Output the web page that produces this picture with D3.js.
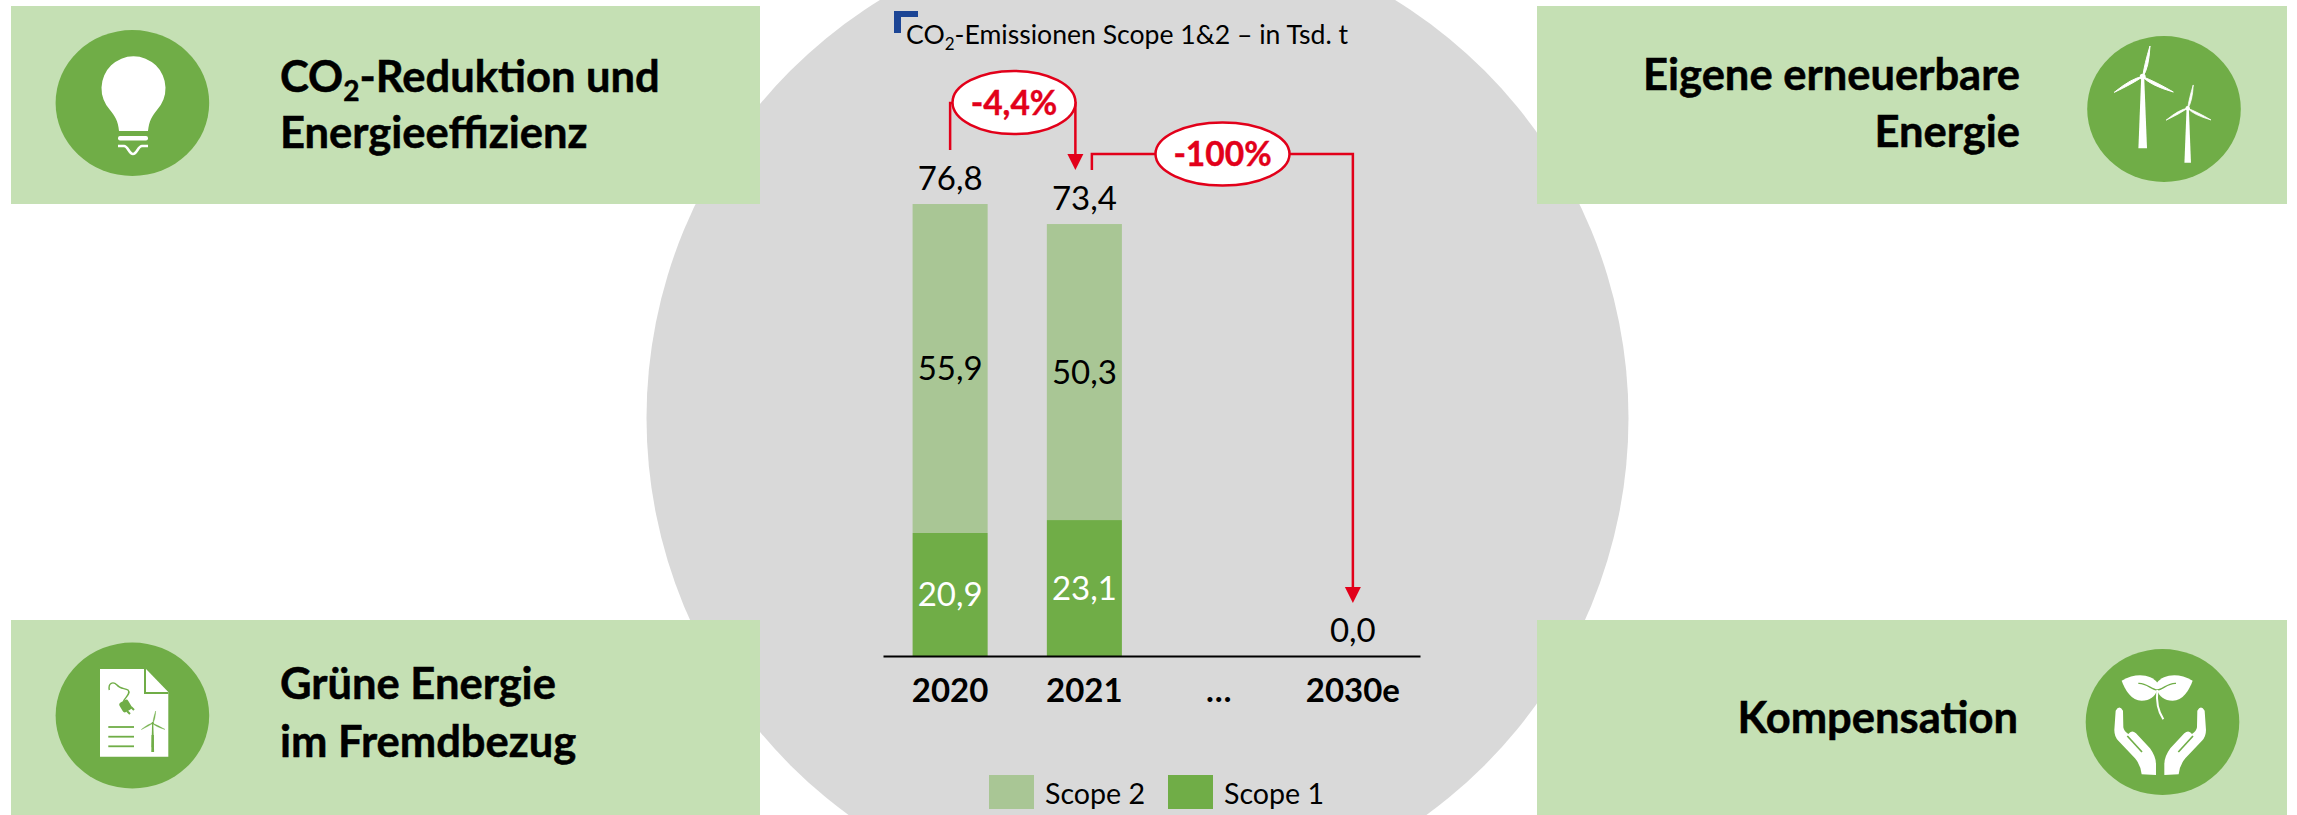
<!DOCTYPE html>
<html>
<head>
<meta charset="utf-8">
<script src="https://cdn.jsdelivr.net/npm/d3@7"></script>
<style type="text/css">
  body { margin: 0; background: #fff; }
  svg { display: block; }
  text { font-family: Lato, "Open Sans", sans-serif; fill: #000; }
  .heading { font-size: 43.5px; font-weight: 700; stroke: #000; stroke-width: 0.5; }
  .value { font-size: 33px; }
  .callout { font-size: 33.5px; font-weight: 700; fill: #e2001a; stroke: #e2001a; stroke-width: 0.4; text-anchor: middle; }
  .x-axis text { font-size: 33px; font-weight: 700; font-family: Lato, sans-serif; }
  .x-axis path { stroke: #000; stroke-width: 2; }
  .connector { fill: none; stroke: #e2001a; stroke-width: 2.5; }
</style>
</head>
<body>
<script>

// chart data
var categories = ["2020", "2021", "…", "2030e"];
var scope1 = [20.9, 23.1, 0, 0];
var scope2 = [55.9, 50.3, 0, 0];
var totals = [76.8, 73.4, null, 0.0];
var changes = ["-4,4%", "-100%"];
var seriesNames = ["Scope 2", "Scope 1"];

var width = 2297, height = 815;
var colorScope1 = "#70ad47", colorScope2 = "#a9c695", colorBox = "#c5e0b4",
    colorRed = "#e2001a", colorGrey = "#d9d9d9";

var fmt = d => d.toFixed(1).replace(".", ",");

var svg = d3.select("body").append("svg")
    .attr("width", width)
    .attr("height", height);

svg.append("rect").attr("width", width).attr("height", height).attr("fill", "#fff");

// big grey circle behind the chart
svg.append("circle")
    .attr("cx", 1137.5).attr("cy", 418).attr("r", 491)
    .attr("fill", colorGrey);

// corner boxes
function box(x, y, w, h) {
    svg.append("rect")
        .attr("x", x).attr("y", y).attr("width", w).attr("height", h)
        .attr("fill", colorBox);
}
box(11, 6, 749, 198);
box(1537, 6, 750, 198);
box(11, 620, 749, 195);
box(1537, 620, 750, 195);

// heading text, "2" after CO gets set as subscript
function heading(x, y, anchor, txt) {
    var t = svg.append("text").attr("class", "heading")
        .attr("x", x).attr("y", y).attr("text-anchor", anchor);
    if (txt.indexOf("CO2") === 0) {
        t.append("tspan").text("CO");
        t.append("tspan").attr("dy", 9).style("font-size", "28px").text("2");
        t.append("tspan").attr("dy", -9).text(txt.slice(3));
    } else {
        t.text(txt);
    }
}
heading(280, 92, "start", "CO2-Reduktion und");
heading(280, 148, "start", "Energieeffizienz");
heading(2020, 90, "end", "Eigene erneuerbare");
heading(2020, 146.7, "end", "Energie");
heading(280, 699, "start", "Grüne Energie");
heading(280, 757, "start", "im Fremdbezug");
heading(2018, 733, "end", "Kompensation");

// icon discs
function disc(cx, cy) {
    svg.append("ellipse")
        .attr("cx", cx).attr("cy", cy).attr("rx", 76.8).attr("ry", 73)
        .attr("fill", colorScope1);
}
disc(132.4, 103);
disc(2164, 109);
disc(132.4, 715.5);
disc(2162.5, 722);

// light bulb
var bulb = svg.append("g");
bulb.append("path")
    .attr("d", "M119,131 C118,121 115,116 110,110 A32,32 0 1 1 157,110 C152,116 149,121 148,131 Z")
    .attr("fill", "#fff");
bulb.append("rect").attr("x", 118).attr("y", 136).attr("width", 30).attr("height", 4.5)
    .attr("rx", 2).attr("fill", "#fff");
bulb.append("path")
    .attr("d", "M118,146 H124 C128,146 129,154 133,154 C137,154 138,146 142,146 H148")
    .attr("fill", "none").attr("stroke", "#fff").attr("stroke-width", 2.5);

// wind turbine, tips are relative to the hub
function turbine(parent, hx, hy, s, color, baseHalf) {
    var tips = [[7.3, -30.7], [-28.4, 15.6], [30.6, 15.3]];
    var g = parent.append("g").attr("transform", `translate(${hx},${hy}) scale(${s})`);
    g.append("path")
        .attr("d", `M-1.5,0 L1.5,0 L${baseHalf},71.6 L${-baseHalf},71.6 Z`)
        .attr("fill", color);
    tips.forEach(function(t) {
        var nx = -t[1] * 0.13, ny = t[0] * 0.13;
        g.append("path")
            .attr("d", `M0,0 Q${t[0] * 0.3 + nx},${t[1] * 0.3 + ny} ${t[0]},${t[1]} ` +
                       `Q${t[0] * 0.4 - nx * 0.3},${t[1] * 0.4 - ny * 0.3} 0,0 Z`)
            .attr("fill", color)
            .attr("stroke", color)
            .attr("stroke-width", 1);
    });
    g.append("circle").attr("r", 3).attr("fill", color);
}
turbine(svg, 2142.7, 76.7, 1, "#fff", 4.3);
turbine(svg, 2187.7, 108.3, 0.76, "#fff", 4.3);

// document with plug and turbine
var doc = svg.append("g");
doc.append("path")
    .attr("d", "M100,669 H146 L168.3,692 V756.7 H100 Z")
    .attr("fill", "#fff");
doc.append("path")
    .attr("d", "M145,669 V693 H168.3")
    .attr("fill", "none").attr("stroke", colorScope1).attr("stroke-width", 2);
doc.append("path")
    .attr("d", "M109.3,690 C108,683 113,681 117,685 C120,689 125,688 128,690 C131,693 126,697 123.5,701")
    .attr("fill", "none").attr("stroke", colorScope1).attr("stroke-width", 1.4);
doc.append("rect")
    .attr("x", -5).attr("y", -5.5).attr("width", 10).attr("height", 11).attr("rx", 2.5)
    .attr("transform", "translate(125.5,706) rotate(-30)")
    .attr("fill", colorScope1);
doc.append("path")
    .attr("d", "M127,711 L130,714 M131,707 L134,710")
    .attr("stroke", colorScope1).attr("stroke-width", 2);
doc.selectAll(".doc-line")
    .data([727, 736.7, 746.3])
    .enter().append("line")
    .attr("class", "doc-line")
    .attr("x1", 108.3).attr("x2", 134)
    .attr("y1", d => d).attr("y2", d => d)
    .attr("stroke", colorScope1).attr("stroke-width", 1.8);
turbine(doc, 152.7, 723.3, 0.4, colorScope1, 3.5);
doc.append("rect").attr("x", 151.5).attr("y", 735).attr("width", 2.4).attr("height", 12.3)
    .attr("fill", colorScope1);

// seedling in two hands, drawn in 3x coordinates
var hands = svg.append("g").attr("transform", "translate(2070,640) scale(0.3333)");
var leaf = "M262,128 C245,105 200,95 155,122 C165,150 185,182 215,182 C240,182 255,170 262,150 Z";
var hand = "M137,212 Q148,193 159,212 L160,262 Q162,275 175,282 Q185,268 198,280 L240,325 " +
           "Q258,350 258,372 L258,405 L215,403 Q212,375 195,355 L145,302 Q133,290 133,270 Z";
hands.append("path").attr("d", leaf).attr("fill", "#fff");
hands.append("path").attr("d", leaf).attr("fill", "#fff")
    .attr("transform", "translate(523,0) scale(-1,1)");
hands.append("path")
    .attr("d", "M205,130 C230,128 245,150 262,150 C278,150 293,128 318,130")
    .attr("fill", "none").attr("stroke", colorScope1).attr("stroke-width", 4);
hands.append("path")
    .attr("d", "M262,150 C258,185 265,215 280,238")
    .attr("fill", "none").attr("stroke", "#fff").attr("stroke-width", 6);
[0, 1].forEach(function(i) {
    var g = hands.append("g");
    if (i) g.attr("transform", "translate(541,0) scale(-1,1)");
    g.append("path").attr("d", hand).attr("fill", "#fff");
    g.append("path").attr("d", "M172,288 L216,336")
        .attr("stroke", colorScope1).attr("stroke-width", 5).attr("fill", "none");
});

// chart title with blue corner mark
svg.append("path")
    .attr("d", "M894,33 V11 H918 V17 H901 V33 Z")
    .attr("fill", "#1c4595");
var title = svg.append("text").attr("x", 906).attr("y", 44).style("font-size", "26.6px");
title.append("tspan").text("CO");
title.append("tspan").attr("dy", 6).style("font-size", "17px").text("2");
title.append("tspan").attr("dy", -6).text("-Emissionen Scope 1&2 – in Tsd. t");

// scales
var xScale = d3.scaleBand()
    .domain(categories)
    .range([883, 1420])
    .paddingInner(0.441)
    .paddingOuter(0.2205);

var yScale = d3.scaleLinear()
    .domain([0, 80])
    .range([656, 656 - 80 * 5.885]);

var table = categories.map((c, i) => ({cat: c, "Scope 1": scope1[i], "Scope 2": scope2[i]}));
var stacked = d3.stack().keys(["Scope 1", "Scope 2"])(table);
var fills = {"Scope 1": colorScope1, "Scope 2": colorScope2};

// stacked bars and inner labels
var series = svg.selectAll(".series")
    .data(stacked)
    .enter().append("g")
    .attr("class", "series")
    .attr("fill", d => fills[d.key]);

series.selectAll("rect")
    .data(d => d.filter(p => p[1] > p[0]))
    .enter().append("rect")
    .attr("x", d => xScale(d.data.cat))
    .attr("width", xScale.bandwidth())
    .attr("y", d => yScale(d[1]))
    .attr("height", d => yScale(d[0]) - yScale(d[1]));

series.selectAll("text")
    .data(d => d.filter(p => p[1] > p[0]).map(p => ({p: p, key: d.key})))
    .enter().append("text")
    .attr("class", "value")
    .attr("x", d => xScale(d.p.data.cat) + xScale.bandwidth() / 2)
    .attr("y", d => yScale((d.p[0] + d.p[1]) / 2))
    .attr("dy", "0.35em")
    .attr("text-anchor", "middle")
    .style("fill", d => d.key === "Scope 1" ? "#fff" : "#000")
    .text(d => fmt(d.p[1] - d.p[0]));

// totals above the bars
svg.selectAll(".total")
    .data(categories.map((c, i) => ({cat: c, v: totals[i]})).filter(d => d.v !== null))
    .enter().append("text")
    .attr("class", "value total")
    .attr("x", d => xScale(d.cat) + xScale.bandwidth() / 2)
    .attr("y", d => yScale(d.v) - 14.5)
    .attr("text-anchor", "middle")
    .text(d => fmt(d.v));

// x axis
var xAxis = d3.axisBottom(xScale).tickSize(0).tickPadding(23);
svg.append("g")
    .attr("class", "x-axis")
    .attr("transform", "translate(0,656)")
    .call(xAxis)
    .call(g => g.selectAll("text").attr("fill", "#000"));

// red change connectors
var c0 = xScale(categories[0]) + xScale.bandwidth() / 2,
    c1 = xScale(categories[1]) + xScale.bandwidth() / 2,
    c3 = xScale(categories[3]) + xScale.bandwidth() / 2;

function arrowHead(x, yBase, yTip) {
    svg.append("path")
        .attr("d", `M${x - 8},${yBase} H${x + 8} L${x},${yTip} Z`)
        .attr("fill", colorRed);
}
svg.append("path").attr("class", "connector")
    .attr("d", `M${c0},150 V103 H${c1 - 9} V156`);
arrowHead(c1 - 9, 154, 170);
svg.append("path").attr("class", "connector")
    .attr("d", `M${c1 + 7.5},170 V154 H${c3} V589`);
arrowHead(c3, 587, 603);

function callout(cx, cy, rx, ry, txt) {
    svg.append("ellipse")
        .attr("cx", cx).attr("cy", cy).attr("rx", rx).attr("ry", ry)
        .attr("fill", "#fff").attr("stroke", colorRed).attr("stroke-width", 2.5);
    svg.append("text").attr("class", "callout")
        .attr("x", cx).attr("y", cy).attr("dy", "0.36em")
        .text(txt);
}
callout(1014, 102.5, 61.5, 31.5, changes[0]);
callout(1222.5, 154, 67, 31.5, changes[1]);

// legend
var legendX = [989, 1168];
seriesNames.forEach(function(name, i) {
    svg.append("rect")
        .attr("x", legendX[i]).attr("y", 775).attr("width", 45).attr("height", 34)
        .attr("fill", fills[name]);
    svg.append("text")
        .attr("x", legendX[i] + 56).attr("y", 804)
        .style("font-size", "28.6px")
        .text(name);
});

</script>
</body>
</html>
